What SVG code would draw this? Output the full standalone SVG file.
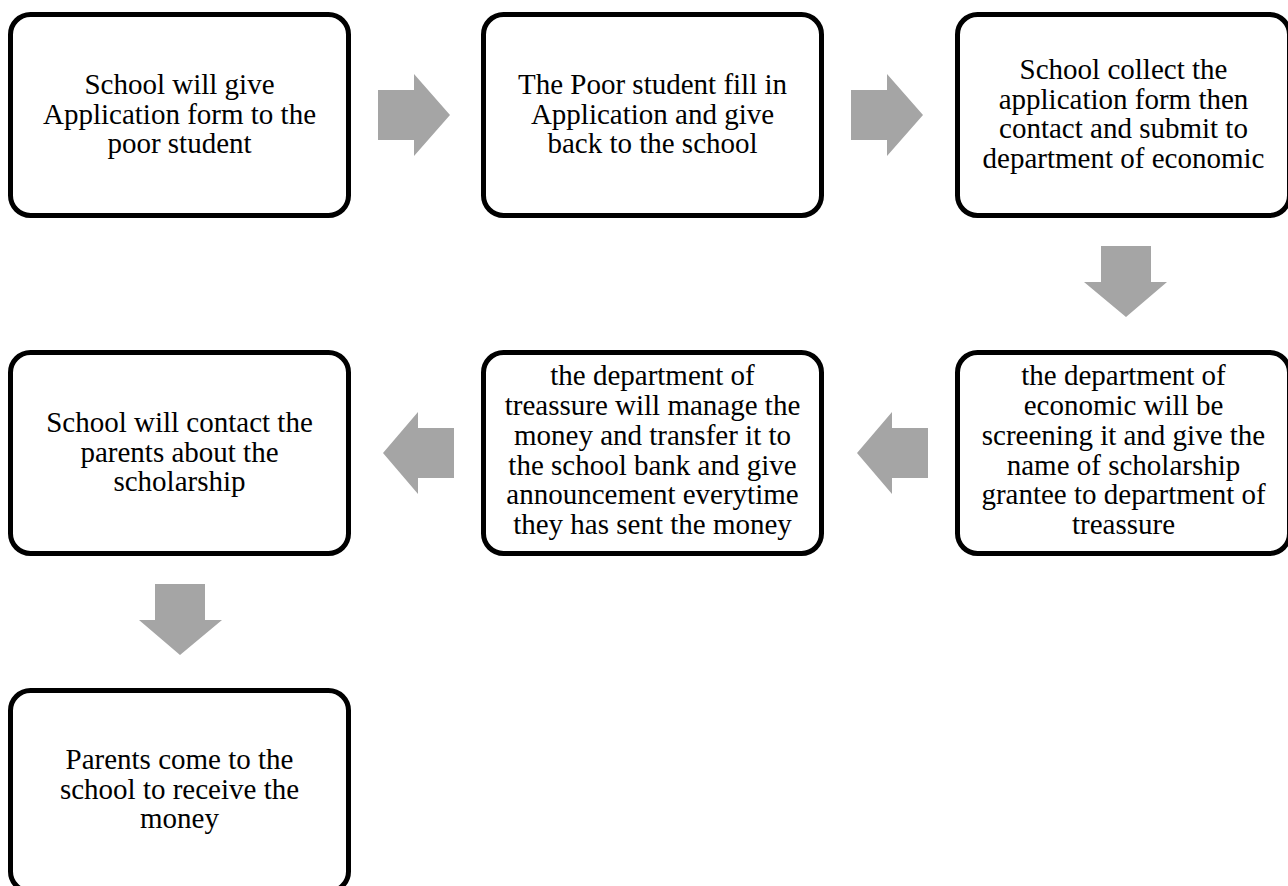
<svg xmlns="http://www.w3.org/2000/svg" width="1288" height="886" viewBox="0 0 1288 886">
  <style>
    .box { fill: #ffffff; stroke: #000000; stroke-width: 5; }
    .lbl { font-family: "Liberation Serif", "Times New Roman", serif; font-size: 29px; fill: #000000; text-anchor: middle; }
    .arrow { fill: #a5a5a5; stroke: none; }
  </style>
  <rect width="1288" height="886" fill="#ffffff"/>

  <!-- process steps -->
  <g id="step1">
    <rect class="box" x="10.5" y="14.5" width="338" height="201" rx="20" ry="20"/>
    <text class="lbl" x="179.5" y="94">School will give</text>
    <text class="lbl" x="179.5" y="123.5">Application form to the</text>
    <text class="lbl" x="179.5" y="153">poor student</text>
  </g>
  <g id="step2">
    <rect class="box" x="483.5" y="14.5" width="338" height="201" rx="20" ry="20"/>
    <text class="lbl" x="652.5" y="94">The Poor student fill in</text>
    <text class="lbl" x="652.5" y="123.5">Application and give</text>
    <text class="lbl" x="652.5" y="153">back to the school</text>
  </g>
  <g id="step3">
    <rect class="box" x="957.5" y="14.5" width="332" height="201" rx="20" ry="20"/>
    <text class="lbl" x="1123.5" y="79">School collect the</text>
    <text class="lbl" x="1123.5" y="108.5">application form then</text>
    <text class="lbl" x="1123.5" y="138">contact and submit to</text>
    <text class="lbl" x="1123.5" y="167.5">department of economic</text>
  </g>
  <g id="step4">
    <rect class="box" x="957.5" y="352.5" width="332" height="201" rx="20" ry="20"/>
    <text class="lbl" x="1123.5" y="385">the department of</text>
    <text class="lbl" x="1123.5" y="415">economic will be</text>
    <text class="lbl" x="1123.5" y="445">screening it and give the</text>
    <text class="lbl" x="1123.5" y="474.5">name of scholarship</text>
    <text class="lbl" x="1123.5" y="504">grantee to department of</text>
    <text class="lbl" x="1123.5" y="534">treassure</text>
  </g>
  <g id="step5">
    <rect class="box" x="483.5" y="352.5" width="338" height="201" rx="20" ry="20"/>
    <text class="lbl" x="652.5" y="385">the department of</text>
    <text class="lbl" x="652.5" y="415">treassure will manage the</text>
    <text class="lbl" x="652.5" y="445">money and transfer it to</text>
    <text class="lbl" x="652.5" y="474.5">the school bank and give</text>
    <text class="lbl" x="652.5" y="504">announcement everytime</text>
    <text class="lbl" x="652.5" y="534">they has sent the money</text>
  </g>
  <g id="step6">
    <rect class="box" x="10.5" y="352.5" width="338" height="201" rx="20" ry="20"/>
    <text class="lbl" x="179.5" y="432">School will contact the</text>
    <text class="lbl" x="179.5" y="461.5">parents about the</text>
    <text class="lbl" x="179.5" y="491">scholarship</text>
  </g>
  <g id="step7">
    <rect class="box" x="10.5" y="690.5" width="338" height="201" rx="20" ry="20"/>
    <text class="lbl" x="179.5" y="769">Parents come to the</text>
    <text class="lbl" x="179.5" y="798.5">school to receive the</text>
    <text class="lbl" x="179.5" y="828">money</text>
  </g>

  <!-- block arrows between steps -->
  <g id="connectors">
    <polygon class="arrow" points="378,90 414,90 414,74 450,115 414,156 414,140 378,140"/>
    <polygon class="arrow" points="851,90 887,90 887,74 923,115 887,156 887,140 851,140"/>
    <polygon class="arrow" points="1101,246 1151,246 1151,282 1167,282 1126,317 1084,282 1101,282"/>
    <polygon class="arrow" points="928,428 892,428 892,412 857,453 892,494 892,478 928,478"/>
    <polygon class="arrow" points="454,428 418,428 418,412 383,453 418,494 418,478 454,478"/>
    <polygon class="arrow" points="155,584 205,584 205,620 222,620 180,655 139,620 155,620"/>
  </g>
</svg>
